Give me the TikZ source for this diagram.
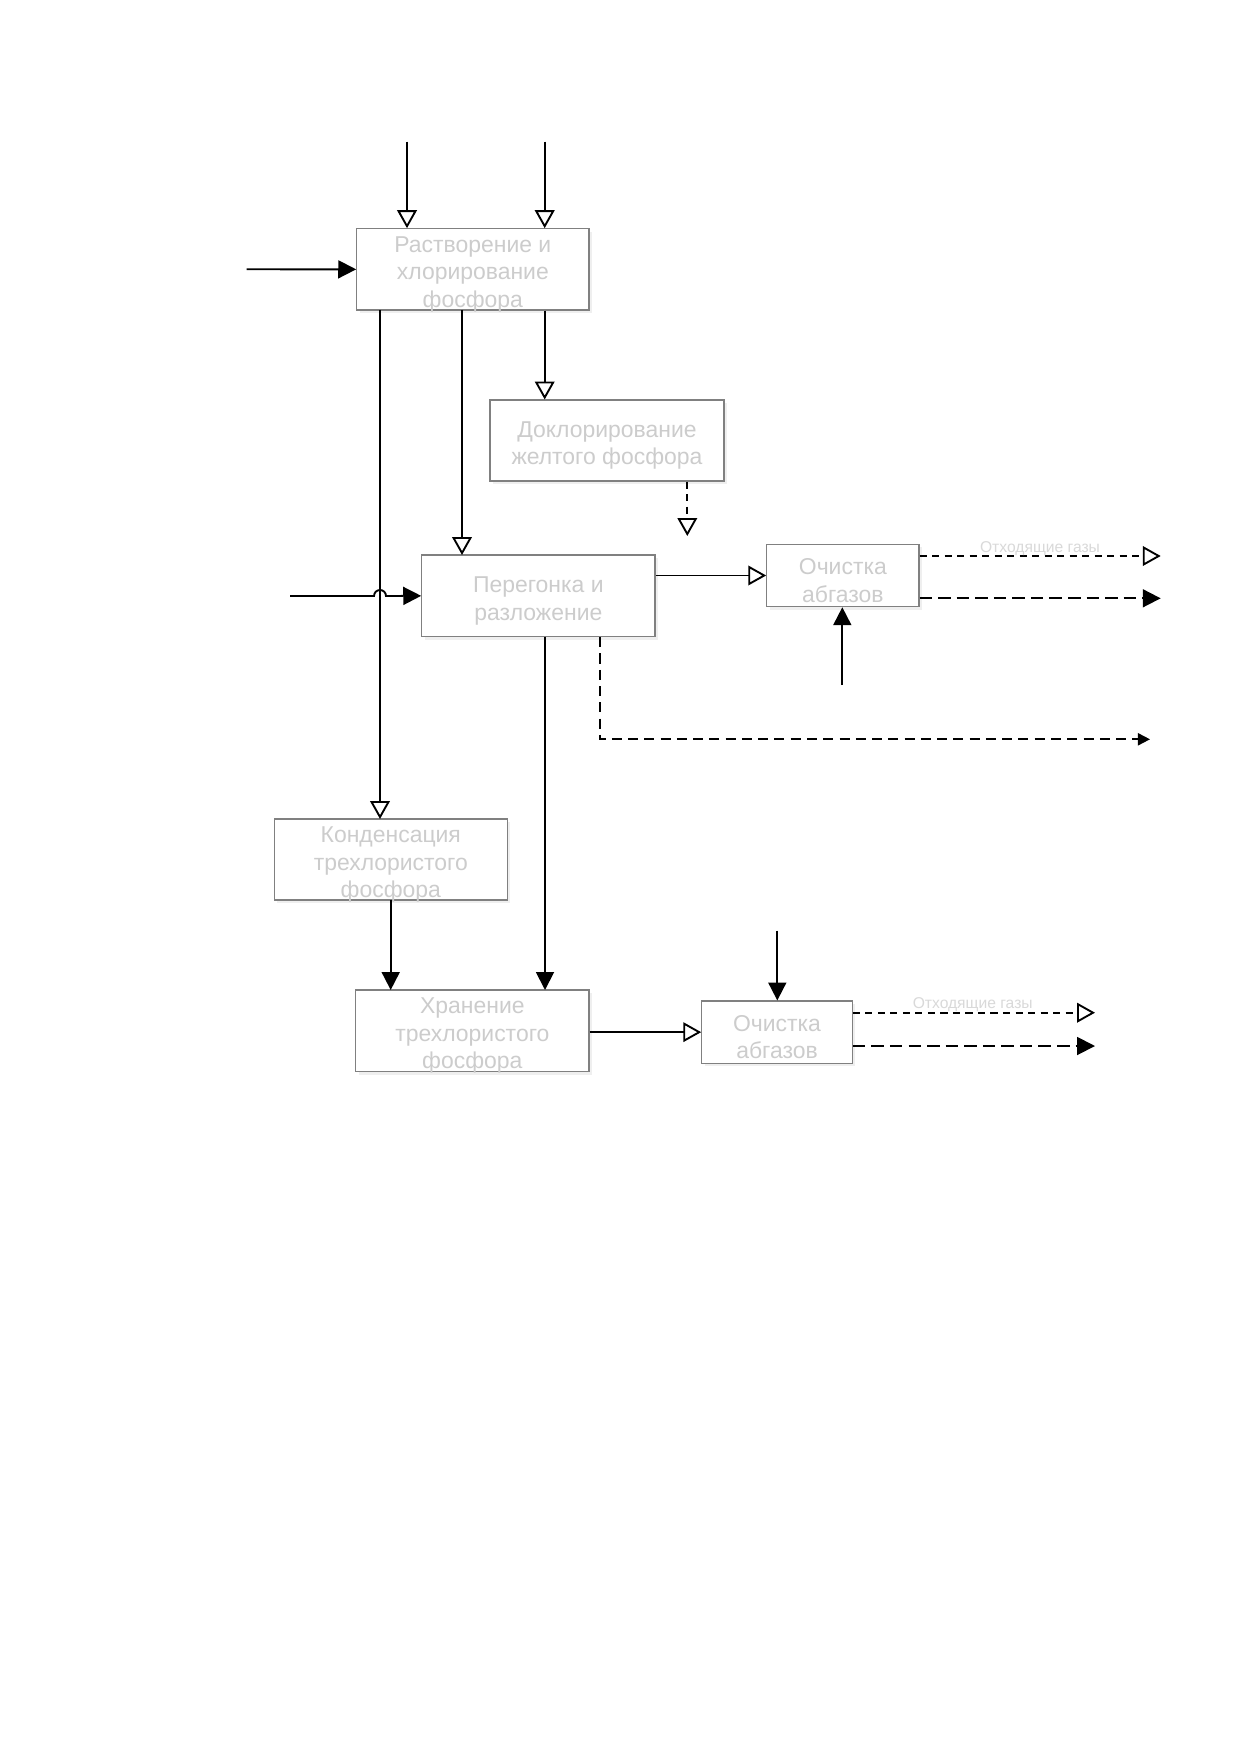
\documentclass[tikz,border=0pt]{standalone}
\usepackage{fontspec}
\setmainfont{Liberation Sans}
\usetikzlibrary{arrows.meta,fit,shadows}
\newcommand{\boxfont}{\fontsize{11}{13.2}\selectfont}
\tikzset{
  box/.style={draw=black!50, line width=0.5pt, fill=white, inner sep=0pt,
    drop shadow={opacity=0.12, shadow xshift=1.5pt, shadow yshift=-1.5pt}},
  boxtext/.style={text=black!20, font=\boxfont, align=center, yshift=-2.4pt},
  ln/.style={line width=0.9pt},
  opentip/.style={-{Triangle[open,length=8.6pt,width=9.4pt]}},
  filltip/.style={-{Triangle[length=8.6pt,width=8.6pt]}},
  smalltip/.style={-{Triangle[length=5.8pt,width=5.8pt]}},
  sdash/.style={dash pattern=on 3.4pt off 2.6pt},
  ldash/.style={dash pattern=on 6pt off 2.9pt},
  mdash/.style={dash pattern=on 4.8pt off 3pt},
  lbl/.style={text=black!15, font=\fontsize{7.5}{9}\selectfont, inner sep=0pt}
}
\begin{document}
\begin{tikzpicture}[x=0.4795pt,y=-0.4795pt]
\useasboundingbox[fill=white] (0,0) rectangle (1241,1754);

% boxes
\node[box, fit={(356.7,228.7) (589,310)}, label={[boxtext]center:{Растворение и\\хлорирование\\фосфора}}] (b1) {};
\node[box, fit={(490,400) (724,481)}, label={[boxtext]center:{Доклорирование\\желтого фосфора}}] (b2) {};
\node[box, fit={(421.7,555) (655,636.7)}, label={[boxtext]center:{Перегонка и\\разложение}}] (b3) {};
\node[box, fit={(766.7,544.3) (919,606.7)}, label={[boxtext]center:{Очистка\\абгазов}}] (b4) {};
\node[box, fit={(274.3,819) (507.3,900)}, label={[boxtext]center:{Конденсация\\трехлористого\\фосфора}}] (b5) {};
\node[box, fit={(355.7,990) (589,1071.7)}, label={[boxtext]center:{Хранение\\трехлористого\\фосфора}}] (b6) {};
\node[box, fit={(701.7,1001) (852.3,1063.3)}, label={[boxtext]center:{Очистка\\абгазов}}] (b7) {};

% free ends
\coordinate (in1) at (407,141.7);
\coordinate (in2) at (544.7,141.7);
\coordinate (in3) at (246.7,269.3);
\coordinate (in4) at (290,596);
\coordinate (in5) at (842.3,685);
\coordinate (in6) at (777.3,930.7);
\coordinate (o2) at (687.3,536);
\coordinate (o3a) at (600,739.3);
\coordinate (o3b) at (1150,739.3);
\coordinate (o4a) at (1160.7,556);
\coordinate (o4b) at (1160.7,598.3);
\coordinate (o7a) at (1095,1012.7);
\coordinate (o7b) at (1095,1046);

% inputs to box 1
\draw[ln, opentip] (in1) -- (in1 |- b1.north);
\draw[ln, opentip] (in2) -- (in2 |- b1.north);
\draw[ln, filltip] (in3) -- (b1.west);

% from box 1
\draw[ln, opentip] (in2 |- b1.south) -- (in2 |- b2.north);
\draw[ln, opentip] (462,310) -- (462,555);
\draw[ln, opentip] (380,310) -- (380,819);

% box 2 output
\draw[ln, sdash, opentip] (o2 |- b2.south) -- (o2);

% input to box 3 with jump
\draw[ln, filltip] (in4) -- (374,596) arc[start angle=180, end angle=360, radius=6] -- (b3.west);

% box 3 to box 4
\draw[ln, opentip] (b3.east |- b4.west) -- (b4.west);
\draw[ln, filltip] (in5) -- (in5 |- b4.south);

% box 4 outputs
\draw[ln, sdash, opentip] (b4.east |- o4a) -- (o4a);
\draw[ln, ldash, filltip] (b4.east |- o4b) -- (o4b);
\node[lbl] (l1) at (1040,549) {Отходящие газы};

% box 3 dashed output
\draw[ln, mdash, smalltip] (o3a |- b3.south) -- (o3a) -- (o3b);

% box 3 to box 6
\draw[ln, filltip] (545,636.7) -- (545,990);
% box 5 to box 6
\draw[ln, filltip] (390.7,900) -- (390.7,990);

% box 6 to box 7
\draw[ln, opentip] (b6.east |- b7.west) -- (b7.west);
\draw[ln, filltip] (in6) -- (in6 |- b7.north);

% box 7 outputs
\draw[ln, sdash, opentip] (b7.east |- o7a) -- (o7a);
\draw[ln, ldash, filltip] (b7.east |- o7b) -- (o7b);
\node[lbl] (l2) at (972.7,1005) {Отходящие газы};
\end{tikzpicture}
\end{document}
